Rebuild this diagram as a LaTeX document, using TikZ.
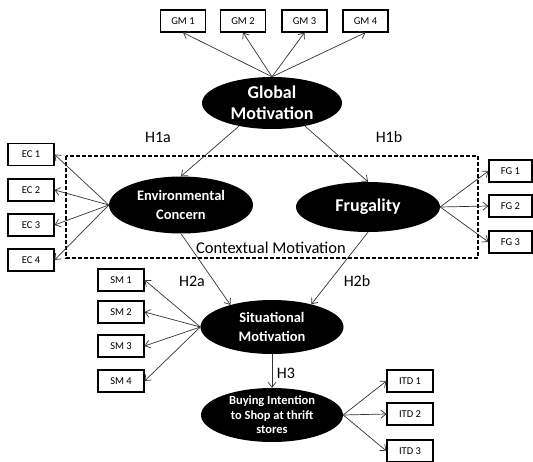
\documentclass[tikz,border=0pt]{standalone}
\usepackage{fontspec}
\setmainfont{Carlito}
\usetikzlibrary{
    positioning,
    shapes.geometric,
    arrows.meta
}
\definecolor{Linha}{HTML}{333333}

\begin{document}
\begin{tikzpicture}[
                x=1pt, y=-1pt,
                every node/.style={align=center},
                indicador/.style={draw=black, line width=1.1pt, fill=white,
                    minimum width=45pt, minimum height=22pt, inner sep=0pt,
                    font=\fontsize{10.5}{12}\selectfont},
                construto/.style={ellipse, fill=black, text=white, inner sep=0pt},
                seta/.style={-{Straight Barb[length=5pt,width=8pt]}, line width=0.7pt, Linha},
                hipotese/.style={font=\fontsize{16}{18}\selectfont}
            ]

                \useasboundingbox (0,0) rectangle (533,462);

                % contextual motivation frame
                \draw[dashed, line width=1.2pt, dash pattern=on 4pt off 2pt]
                    (66,156) rectangle (478,258);

                \node[font=\fontsize{16.5}{18}\selectfont] (contextual) at (271,248) {Contextual Motivation};


                \node[construto, minimum width=140pt, minimum height=52pt,
                    font=\fontsize{18}{21}\selectfont\bfseries] (global) at (272,103) {Global\\Motivation};

                \node[construto, minimum width=144pt, minimum height=57pt,
                    font=\fontsize{14.5}{18.5}\selectfont\bfseries] (envconcern) at (181,205) {Environmental\\Concern};

                \node[construto, minimum width=144pt, minimum height=50pt,
                    font=\fontsize{18}{21}\selectfont\bfseries] (frugality) at (368,207) {Frugality};

                \node[construto, minimum width=143pt, minimum height=54pt,
                    font=\fontsize{14.5}{18.5}\selectfont\bfseries] (situational) at (272,327) {Situational\\Motivation};

                \node[construto, minimum width=142pt, minimum height=54pt,
                    font=\fontsize{12.5}{14.5}\selectfont\bfseries] (intention) at (272,415) {Buying Intention\\to Shop at thrift\\stores};


                \node[indicador] (gm1) at (183,21) {GM 1};
                \node[indicador] (gm2) at (243,21) {GM 2};
                \node[indicador] (gm3) at (304.5,21) {GM 3};
                \node[indicador] (gm4) at (365.5,21) {GM 4};

                \node[indicador, minimum width=46pt] (ec1) at (31,154.5) {EC 1};
                \node[indicador, minimum width=46pt] (ec2) at (31,190) {EC 2};
                \node[indicador, minimum width=46pt] (ec3) at (31,225) {EC 3};
                \node[indicador, minimum width=46pt] (ec4) at (31,260) {EC 4};

                \node[indicador, minimum width=43pt] (fg1) at (510.5,171) {FG 1};
                \node[indicador, minimum width=43pt] (fg2) at (510.5,206) {FG 2};
                \node[indicador, minimum width=43pt] (fg3) at (510.5,242) {FG 3};

                \node[indicador, minimum width=46pt] (sm1) at (121,280) {SM 1};
                \node[indicador, minimum width=46pt] (sm2) at (121,312) {SM 2};
                \node[indicador, minimum width=46pt] (sm3) at (121,346) {SM 3};
                \node[indicador, minimum width=46pt] (sm4) at (121,381) {SM 4};

                \node[indicador, minimum width=46pt] (itd1) at (410,381) {ITD 1};
                \node[indicador, minimum width=46pt] (itd2) at (410,414) {ITD 2};
                \node[indicador, minimum width=46pt] (itd3) at (410,451) {ITD 3};


                \node[hipotese] (h1a) at (158,137) {H1a};
                \node[hipotese] (h1b) at (389,137) {H1b};
                \node[hipotese] (h2a) at (192,281) {H2a};
                \node[hipotese] (h2b) at (357,281) {H2b};
                \node[hipotese] (h3) at (286,373) {H3};


                % measurement arrows
                \draw[seta] (global.north) -- (gm1.south);
                \draw[seta] (global.north) -- (gm2.south);
                \draw[seta] (global.north) -- (gm3.south);
                \draw[seta] (global.north) -- (gm4.south);

                \draw[seta] (envconcern.west) -- (ec1.east);
                \draw[seta] (envconcern.west) -- (ec2.east);
                \draw[seta] (envconcern.west) -- (ec3.east);
                \draw[seta] (envconcern.west) -- (ec4.east);

                \draw[seta] (frugality.east) -- (fg1.west);
                \draw[seta] (frugality.east) -- (fg2.west);
                \draw[seta] (frugality.east) -- (fg3.west);

                \draw[seta] (situational.west) -- (sm1.east);
                \draw[seta] (situational.west) -- (sm2.east);
                \draw[seta] (situational.west) -- (sm3.east);
                \draw[seta] (situational.west) -- (sm4.east);

                \draw[seta] (intention.east) -- (itd1.west);
                \draw[seta] (intention.east) -- (itd2.west);
                \draw[seta] (intention.east) -- (itd3.west);

                % structural paths
                \draw[seta] (global.215) -- (envconcern.north);
                \draw[seta] (global.325) -- (frugality.north);
                \draw[seta] (envconcern.south) -- (situational.152);
                \draw[seta] (frugality.south) -- (situational.30);
                \draw[seta] (situational.south) -- (intention.north);

            \end{tikzpicture}
\end{document}
